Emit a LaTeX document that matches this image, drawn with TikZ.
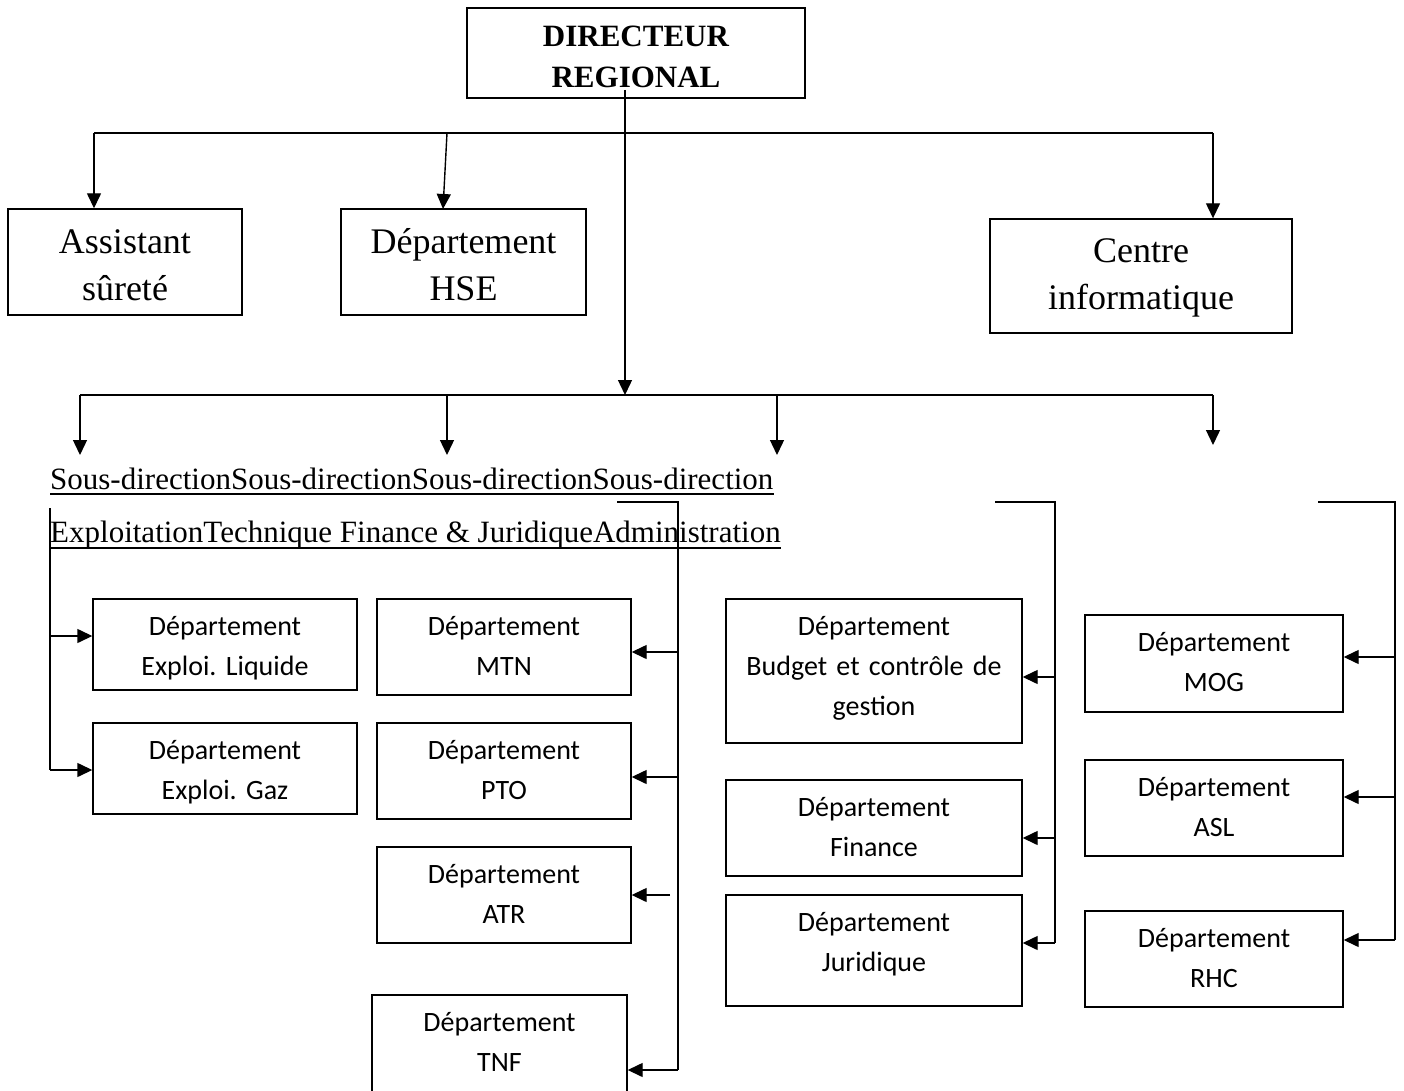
\documentclass[tikz,border=0pt]{standalone}
\usepackage{fontspec}
\setmainfont{Liberation Serif}
\newfontfamily\calib{Carlito}
\usetikzlibrary{arrows.meta}
\frenchspacing
\tikzset{
  box/.style={draw, line width=1.4pt, rectangle, inner sep=0pt},
  ln/.style={line width=1.4pt},
  arr/.style={line width=1.4pt, -{Triangle[length=15pt,width=14pt]}},
  dtxt/.style={font={\calib\fontsize{28}{40}\selectfont\frenchspacing}, align=center, text width=300pt, inner sep=0pt, anchor=base},
  ttxt/.style={font={\fontsize{36}{47.5}\selectfont}, align=center, text width=300pt, inner sep=0pt, anchor=base},
  stxt/.style={font={\fontsize{31}{41}\selectfont}, inner sep=0pt, anchor=base west},
  ul/.style={line width=1.8pt}
}
\begin{document}
\begin{tikzpicture}[x=1pt,y=-1pt]
\useasboundingbox[fill=white] (0,0) rectangle (1404,1091);

% Director
\node[box, minimum width=338, minimum height=90] (dir) at (636,53) {};
\node[font={\bfseries\fontsize{31}{41}\selectfont}, align=center, text width=300pt, inner sep=0pt, anchor=base] (dirt) at (636,47) {DIRECTEUR\\REGIONAL};

% Top row
\node[box, minimum width=234, minimum height=106] (asst) at (125,262) {};
\node[ttxt] (asstt) at (125,253) {Assistant\\sûreté};
\node[box, minimum width=245, minimum height=106] (hse) at (463.5,262) {};
\node[ttxt] (hset) at (463.5,253) {Département\\HSE};
\node[box, minimum width=302, minimum height=114] (ci) at (1141,276) {};
\node[ttxt] (cit) at (1141,262) {Centre\\informatique};

% Bus 1
\coordinate (d0) at (625,90);
\coordinate (b1l) at (94,133);
\coordinate (b1h) at (447,133);
\coordinate (b1r) at (1213,133);
\draw[ln] (b1l) -- (b1r);
\draw[arr] (b1l) -- (b1l |- asst.north);
\draw[arr] (b1h) -- (443,209);
\draw[arr] (b1r) -- (b1r |- ci.north);

% Bus 2
\coordinate (b2m) at (625,395);
\coordinate (b2a) at (80,395);
\coordinate (b2b) at (447,395);
\coordinate (b2c) at (777,395);
\coordinate (b2d) at (1213,395);
\draw[arr] (d0) -- (b2m);
\draw[ln] (b2a) -- (b2d);
\draw[arr] (b2a) -- (80,455);
\draw[arr] (b2b) -- (447,455);
\draw[arr] (b2c) -- (777,455);
\draw[arr] (b2d) -- (1213,445);

% Sous-direction text
\node[stxt] (sd1) at (50,489) {Sous-directionSous-directionSous-directionSous-direction};
\node[stxt] (sd2) at (50,542) {ExploitationTechnique Finance \& JuridiqueAdministration};
\draw[ul] ([yshift=-5pt]sd1.base west) -- ([yshift=-5pt]sd1.base east);
\draw[ul] ([yshift=-6pt]sd2.base west) -- ([yshift=-6pt]sd2.base east);

% Departments
\node[box, minimum width=264, minimum height=91] (liq) at (225,644.5) {};
\node[dtxt] (liqt) at (225,635) {Département\\Exploi. Liquide};
\node[box, minimum width=264, minimum height=91] (gaz) at (225,768.5) {};
\node[dtxt] (gazt) at (225,759) {Département\\Exploi. Gaz};

\node[box, minimum width=254, minimum height=96] (mtn) at (504,647) {};
\node[dtxt] (mtnt) at (504,635) {Département\\MTN};
\node[box, minimum width=254, minimum height=96] (pto) at (504,771) {};
\node[dtxt] (ptot) at (504,759) {Département\\PTO};
\node[box, minimum width=254, minimum height=96] (atr) at (504,895) {};
\node[dtxt] (atrt) at (504,883) {Département\\ATR};
\node[box, minimum width=255, minimum height=110] (tnf) at (499.5,1050) {};
\node[dtxt] (tnft) at (499.5,1031) {Département\\TNF};

\node[box, minimum width=296, minimum height=144] (bud) at (874,671) {};
\node[dtxt] (budt) at (874,635) {Département\\Budget et contrôle de\\gestion};
\node[box, minimum width=296, minimum height=96] (fin) at (874,828) {};
\node[dtxt] (fint) at (874,816) {Département\\Finance};
\node[box, minimum width=296, minimum height=111] (jur) at (874,950.5) {};
\node[dtxt] (jurt) at (874,931) {Département\\Juridique};

\node[box, minimum width=258, minimum height=97] (mog) at (1214,663.5) {};
\node[dtxt] (mogt) at (1214,651) {Département\\MOG};
\node[box, minimum width=258, minimum height=96] (asl) at (1214,808) {};
\node[dtxt] (aslt) at (1214,796) {Département\\ASL};
\node[box, minimum width=258, minimum height=96] (rhc) at (1214,959) {};
\node[dtxt] (rhct) at (1214,947) {Département\\RHC};

% Exploitation connector
\coordinate (ex0) at (50,508);
\coordinate (ex1) at (50,636);
\coordinate (ex2) at (50,770);
\draw[ln] (ex0) -- (ex2);
\draw[arr] (ex1) -- (ex1 -| liq.west);
\draw[arr] (ex2) -- (ex2 -| gaz.west);

% Technique connector
\coordinate (te0) at (617,502);
\coordinate (te1) at (678,502);
\coordinate (te2) at (678,652);
\coordinate (te3) at (678,777);
\coordinate (te4) at (670,895);
\coordinate (te5) at (678,1070);
\draw[ln] (te0) -- (te1) -- (te5);
\draw[arr] (te2) -- (te2 -| mtn.east);
\draw[arr] (te3) -- (te3 -| pto.east);
\draw[arr] (te4) -- (te4 -| atr.east);
\draw[arr] (te5) -- (te5 -| tnf.east);

% Finance connector
\coordinate (fi0) at (995,502);
\coordinate (fi1) at (1055,502);
\coordinate (fi2) at (1055,677);
\coordinate (fi3) at (1055,838);
\coordinate (fi4) at (1055,943);
\draw[ln] (fi0) -- (fi1) -- (fi4);
\draw[arr] (fi2) -- (fi2 -| bud.east);
\draw[arr] (fi3) -- (fi3 -| fin.east);
\draw[arr] (fi4) -- (fi4 -| jur.east);

% Administration connector
\coordinate (ad0) at (1318,502);
\coordinate (ad1) at (1395,502);
\coordinate (ad2) at (1395,657);
\coordinate (ad3) at (1395,797);
\coordinate (ad4) at (1395,940);
\draw[ln] (ad0) -- (ad1) -- (ad4);
\draw[arr] (ad2) -- (ad2 -| mog.east);
\draw[arr] (ad3) -- (ad3 -| asl.east);
\draw[arr] (ad4) -- (ad4 -| rhc.east);
\end{tikzpicture}
\end{document}
